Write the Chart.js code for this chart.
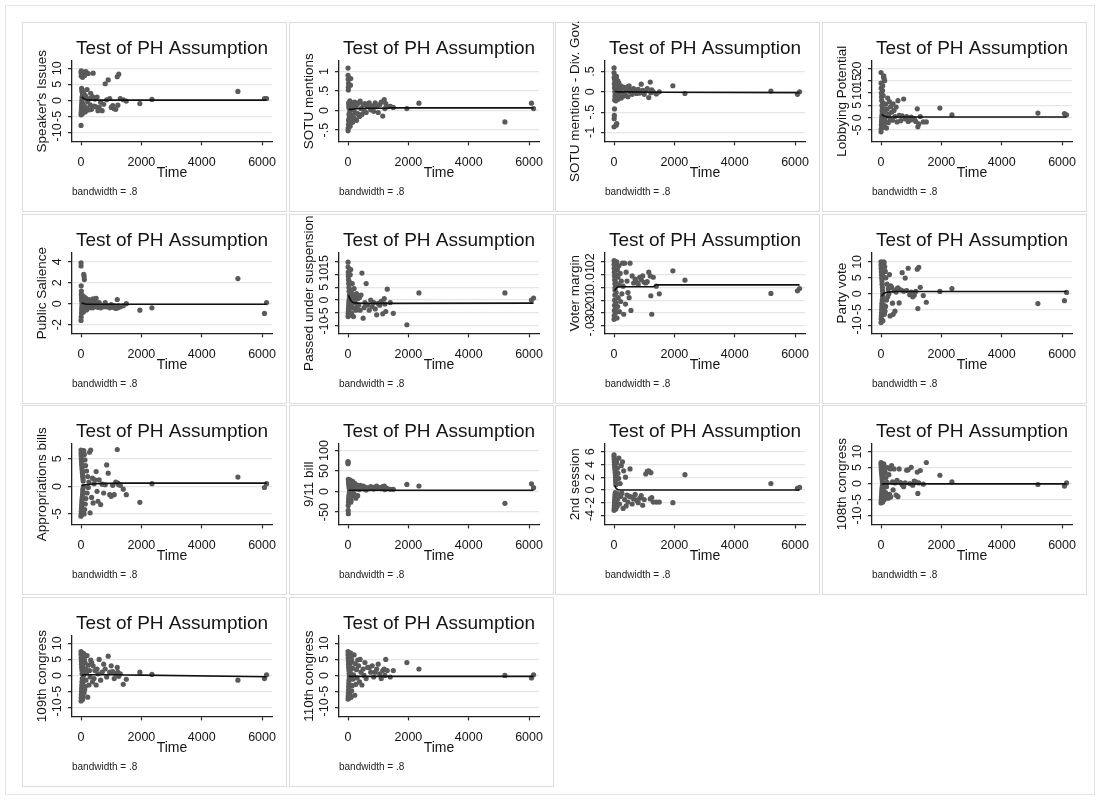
<!DOCTYPE html>
<html><head><meta charset="utf-8">
<script src="https://cdn.jsdelivr.net/npm/chart.js@4.4.1/dist/chart.umd.min.js"></script>
<style>
html,body{margin:0;padding:0;background:#fff;}
body{width:1100px;height:800px;position:relative;overflow:hidden;font-family:"Liberation Sans",Arial,sans-serif;}
#frame{position:absolute;left:5px;top:5px;width:1088px;height:788px;border:1px solid #e4e4e4;}
.card{position:absolute;width:265px;height:190px;box-sizing:border-box;border:1px solid #dcdcdc;background:#fff;}
.card canvas{position:absolute;left:-1px;top:-11px;}
</style></head><body><div id="frame"></div>
<script>
// ---- shared analysis time (x) for every observation ----
const times = [0,0,0,5,5,10,10,15,15,20,20,25,30,30,35,40,45,50,50,55,60,60,70,80,
  90,100,110,120,130,140,150,160,180,200,220,240,260,280,300,320,
  350,380,400,430,460,500,530,560,600,650,700,750,
  800,850,900,950,1000,1050,1100,1150,1200,1220,1250,1300,1400,1500,
  1950,2350,5200,6080,6150];
const smoothTimes = [20,60,120,200,500,1300,1400,6150];
const timeTicks = [0,2000,4000,6000];
const timeTickLabels = ["0","2000","4000","6000"];

// ---- scaled Schoenfeld residuals, one array per covariate ----
const speakersIssues = [-7.8,-4.5,8.8,-3.8,7.6,-3,9.2,-2.2,8.2,-1.4,3.8,-0.6,0.2,2.8,1,3.2,-4.2,1.8,7.2,-2.6,0.6,-1,2.4,-3.4,
  8.6,2,-1.8,7.8,0.8,-3.6,1.4,9,-2.4,3.4,-0.4,8.4,-3,0.6,-1.4,2.2,
  -2.8,1.2,8.5,-1.8,0.4,-2,1,-3.2,-2.2,-0.6,-3.2,-1.2,
  5.2,0.2,6.4,0.6,-2.2,-1.6,-2.6,-2.8,7.4,-1.5,8.2,0.6,0.2,-0.2,
  -1,0.3,2.8,0.6,0.6];
const sotuMentions = [1.09,0.9,-0.52,0.8,-0.45,0.6,0.53,0.7,-0.35,0.2,-0.25,0.1,-0.1,0.15,-0.2,0.05,-0.3,0.22,-0.05,0.12,-0.15,0.25,-0.4,0.65,
  0.82,0.18,-0.22,0.08,-0.12,0.2,-0.3,0.02,0.14,-0.18,0.22,-0.05,0.1,-0.25,0.16,-0.08,
  0.2,-0.15,0.24,0.05,-0.1,0.15,0,0.18,-0.05,0.1,0.2,0.02,
  0.12,-0.02,0.2,0.1,-0.05,0.15,0.22,-0.14,0.28,0.05,0.18,0.1,0.11,0.08,
  0.05,0.19,-0.29,0.19,0.05];
const sotuDivGov = [0.59,-0.86,0.47,-0.66,0.35,-0.58,0.2,-0.42,0.1,-0.2,0.3,0,-0.1,0.4,0.15,-0.15,0.25,0.05,-0.05,0.3,-0.22,0.12,-0.82,0.38,
  -0.78,0.18,-0.12,0.28,0.05,-0.18,0.1,0.22,-0.08,0.02,0.15,-0.15,0.08,-0.05,0.12,-0.1,
  0.1,-0.08,0.05,0.12,-0.12,0.15,0,0.05,-0.06,0.08,0.02,-0.04,
  0.06,-0.03,0.19,0.04,-0.06,0.02,0.08,-0.14,0.24,-0.02,0.05,0,-0.05,0,
  0.15,-0.04,0.02,-0.06,0];
const lobbyingPotential = [18.3,-5.7,14,-4.5,12,-3,10,-2,8.5,-1,7,0,5,1,3,2,4,-4,11,13,6,-2.5,9,16.5,
  17,15.9,-3.5,15,2.5,-1.5,5.5,0.5,-4.2,3.5,8,-2,1.5,6.5,-0.5,4.5,
  2.3,-1,5.6,2.9,0.5,4.3,-1.7,6.9,1,-1.2,0.8,7.6,
  -0.5,0.5,-1.5,-1,0.3,-0.8,-0.4,-1.5,3.6,-3.7,-2.5,0.5,-1.7,-1.7,
  3.9,1.2,1.9,1.7,1.2];
const publicSalience = [3.9,3.6,-1.6,1.7,-1.25,1.2,0.9,-0.9,0.6,-0.6,0.3,-0.3,0,0.5,-0.5,0.8,0.2,-0.2,-0.7,0.4,0.1,-0.4,0.7,-0.8,
  2.8,2.6,2.3,0.6,-0.5,0.3,-0.2,0.5,-0.6,0.2,0,-0.3,0.4,-0.4,0.1,-0.1,
  0.3,-0.4,0.47,0.2,-0.3,0.5,0,-0.35,0.1,-0.4,-0.2,-0.3,
  0.1,-0.3,-0.2,-0.4,-0.1,-0.35,-0.2,-0.45,0.4,-0.4,-0.2,-0.3,-0.2,0,
  -0.62,-0.4,2.4,-0.93,0.1];
const passedSuspension = [14.9,-6.5,13,-5.5,11,-4.5,9.5,-3.5,8,-2.5,6.5,-1.5,5,-0.5,3.5,0.5,2,1.5,12,-6,7,4,10,1,
  12,-2,3,-5,0,6.5,-3,2,-6.5,4.5,-1,1,-4,2.5,-2.5,0.5,
  -2,1,-4,2,10.6,-7.1,-3,-1,6.5,-2,-4,0,
  -2.6,-1,-3.5,-5.8,-1.3,-2,-0.5,-5.4,0.6,-1.5,-4.5,4.3,-1,-5.2,
  -9.7,2.8,2.8,0,0.8];
const voterMargin = [0.021,-0.025,0.018,-0.022,0.015,-0.018,0.012,-0.014,0.009,-0.01,0.006,-0.006,0.003,-0.002,0,0.02,-0.02,0.016,-0.016,0.01,-0.012,0.004,-0.004,0.019,
  0.02,-0.024,0.014,-0.015,0.008,-0.008,0.002,0.017,-0.019,0.011,-0.011,0.005,-0.005,0.019,0.001,-0.021,
  0.019,-0.013,0.012,0.005,-0.004,-0.008,0.019,-0.018,0.009,0.0035,0.0065,0.004,
  0.0026,0.008,0.006,0.009,0.004,0.0035,0.0045,0.012,0.009,-0.0065,-0.021,0.008,0.001,-0.005,
  0.013,0.0057,-0.0047,-0.0026,-0.0008];
const partyVote = [10,-9.1,9,-8,8,-7,7,-6,6,-5,5,-4,4,-3,3,-2,2,-1,1,0,9.5,-8.5,5.5,-3.5,
  10,9.7,-6.5,8.5,-5.5,7,-4,5,-2,3,-1,1.5,0,6,-7,2.5,
  2,-3,-6.5,1,-5.5,0.5,1.5,1.8,-2.9,1.2,6.6,0.8,
  4.9,1,8,-0.3,0.5,-1,-0.5,0.7,7.7,-4.7,8.3,2,-0.6,-2.7,
  0.7,1.6,-3.1,-2.2,0.4];
const appropriationsBills = [6.6,-5.4,6,-5,5.5,-4.5,5,-4,4.5,-3.5,4,-3,3.5,-2.5,3,-2,2.5,-1.5,2,-1,1.5,-0.5,1,0,
  6.5,-5,5.8,-4.2,4.8,-3.2,3.8,-2.2,2.8,-1.2,1.8,-0.2,0.8,6.2,-4.8,6.6,
  -2,1.5,-3,0.5,1.2,2.7,-0.9,-2.7,1.2,-3.3,0.4,-1.2,
  0.3,3.9,2.4,-1.5,-1.8,0.2,-1.5,0.8,6.7,0.6,0.3,0.2,-0.5,-1.5,
  -2.9,0.5,1.7,-0.2,0.5];
const bill911 = [73,68,71,-34,-46,-54,30,-26,25,-20,20,-15,15,-10,10,-5,5,0,22,-18,12,-8,28,-22,
  -26,-22,18,-12,8,-2,25,3,14,-6,20,10,-16,6,16,-10,
  12,5,15,8,10,13.6,6,11,4,9,7,12,
  9.6,6,11,13.6,8,10,7.2,12,13.6,5,9,7.2,5.6,5.6,
  17.5,13.6,-28.7,19,9.6];
const secondSession = [5.2,-3.2,5.5,-2.8,4.8,-2.4,4.4,-2,4,-1.6,3.6,-1.2,3.2,-0.8,2.8,-0.4,2.4,2,1.6,1.2,0.8,-3,-1.8,4.6,
  4.2,-2.6,3.4,-1.4,2.6,-0.6,1.8,5,-2.2,1,-1,3.8,-0.5,4.4,-2.9,3,
  -1.5,2,-2.5,-0.8,-1.9,-1,3.3,-1.1,-2.2,-1.4,-0.7,-1.6,
  -2,-1.3,-0.9,-2.4,-1.5,2.5,2.9,3,-1.4,2.7,-1.2,-1.9,-1.9,-1.9,
  -2,2.4,1,0.25,0.4];
const congress108 = [6.6,-6.1,6,-5.5,5.2,-4.8,4.5,-4,3.8,-3.2,3,-2.4,2.2,-1.6,1.4,-0.8,0.6,0,5.6,-5.8,4,-4.4,2.6,-2,
  6.2,5.6,-5,4.6,-3.8,3.4,-2.8,1.8,-1,0.4,5,-4.6,2.8,-3.4,4.6,-4.2,
  5.6,0.5,-2,4.6,0.2,-3.6,1,-4.1,4.6,0.3,-0.4,-1,
  0.2,4.2,4.3,0,5.1,-0.5,0.8,0.5,3.6,-3.1,0.2,4.1,-0.2,6.6,
  2.6,0.5,-0.3,-0.8,0.2];
const congress109 = [7.4,-8,6.5,-7,5.5,-6,4.5,-5,3.5,-4,2.5,-3,1.5,-2,0.5,-1,7,-7.5,6,-6.5,3,-2.5,1,0,
  6.8,-5.5,5,-4.5,4,-3.5,2,-1.5,0.8,6.2,-6.8,3.2,-3,1.5,-0.5,4.8,
  4,-2,3,-1,1.5,-3,2,0.5,5,-1.5,1,3.5,
  2,-0.5,6,1,3,1.2,-1,0.5,2.5,1,-0.3,0.5,-2.8,-1.2,
  1,0.3,-1.5,-1,0.2];
const congress110 = [7.4,-7.4,6.5,-6.5,5.5,-5.5,4.5,-4.5,3.5,-3.5,2.5,-2.5,1.5,-1.5,0.5,-0.5,7,-7,6,-6,3,-3,1,0,
  7,-6.8,5.2,-4.8,4.2,-3.2,2.2,-1.2,0.2,6.4,-6.2,3.6,-2.8,1.8,-0.8,4.8,
  3,-2,5,1,-3,2,0,4,-1,2.5,2.5,1,
  3,-0.5,1,2,3.5,0.5,-1,1.5,2,0,5,1.5,-0.5,1.5,
  4,2,0,-0.8,0.2];

// ---- lowess smooths (bandwidth .8), evaluated at smoothTimes ----
const speakersIssuesSmooth = [1.1,0.8,0.4,0.15,0.1,0.1,0.1,0.1];
const sotuMentionsSmooth = [0.03,0.03,0.03,0.04,0.06,0.06,0.07,0.07];
const sotuDivGovSmooth = [0.01,0.01,0,0,0,-0.01,-0.01,-0.02];
const lobbyingPotentialSmooth = [1.3,1.0,0.6,0.3,0.3,0.3,0.3,0.3];
const publicSalienceSmooth = [0.06,0.03,-0.02,-0.06,-0.06,-0.06,-0.06,-0.06];
const passedSuspensionSmooth = [1.9,0.5,-0.6,-1.1,-1.3,-1.3,-1.3,-1.2];
const voterMarginSmooth = [-0.0025,-0.001,0.0003,0.0005,0.0005,0.0005,0.002,0.002];
const partyVoteSmooth = [-0.8,-0.2,0.2,0.5,0.7,0.7,0.7,0.7];
const appropriationsBillsSmooth = [0.12,0.2,0.3,0.3,0.5,0.6,0.6,0.6];
const bill911Smooth = [3.2,3.2,3.2,3.2,3.2,3.2,3.2,3.2];
const secondSessionSmooth = [0.7,0.3,0.05,0,0,0,0,0];
const congress108Smooth = [-0.2,-0.1,-0.1,-0.1,-0.1,-0.1,-0.1,-0.1];
const congress109Smooth = [0,0.1,0.2,0.2,0.2,0.2,0.15,-0.4];
const congress110Smooth = [-0.3,-0.3,-0.3,-0.3,-0.3,-0.3,-0.3,-0.3];

// ---- y tick values and their Stata-style labels ----
const ticksTen = [-10,-5,0,5,10];            const ticksTenLabels = ["-10","-5","0","5","10"];
const ticksSotu = [-0.5,0,0.5,1];            const ticksSotuLabels = ["-.5","0",".5","1"];
const ticksDivGov = [-1,-0.5,0,0.5];         const ticksDivGovLabels = ["-1","-.5","0",".5"];
const ticksLobby = [-5,0,5,10,15,20];        const ticksLobbyLabels = ["-5","0","5","10","15","20"];
const ticksSalience = [-2,0,2,4];            const ticksSalienceLabels = ["-2","0","2","4"];
const ticksSuspension = [-10,-5,0,5,10,15];  const ticksSuspensionLabels = ["-10","-5","0","5","10","15"];
const ticksMargin = [-0.03,-0.02,-0.01,0,0.01,0.02]; const ticksMarginLabels = ["-.03","-.02","-.01","0",".01",".02"];
const ticksApprop = [-5,0,5];                const ticksApropLabels = ["-5","0","5"];
const ticks911 = [-50,0,50,100];             const ticks911Labels = ["-50","0","50","100"];
const ticksSession = [-4,-2,0,2,4,6];        const ticksSessionLabels = ["-4","-2","0","2","4","6"];

const panels = [
  {label:"Speaker's Issues", y:speakersIssues, s:speakersIssuesSmooth, min:-12.8, max:12.3, t:ticksTen, tl:ticksTenLabels},
  {label:"SOTU mentions", y:sotuMentions, s:sotuMentionsSmooth, min:-0.79, max:1.27, t:ticksSotu, tl:ticksSotuLabels},
  {label:"SOTU mentions - Div. Gov.", y:sotuDivGov, s:sotuDivGovSmooth, min:-1.22, max:0.76, t:ticksDivGov, tl:ticksDivGovLabels},
  {label:"Lobbying Potential", y:lobbyingPotential, s:lobbyingPotentialSmooth, min:-9.6, max:23, t:ticksLobby, tl:ticksLobbyLabels},
  {label:"Public Salience", y:publicSalience, s:publicSalienceSmooth, min:-2.84, max:4.84, t:ticksSalience, tl:ticksSalienceLabels},
  {label:"Passed under suspension", y:passedSuspension, s:passedSuspensionSmooth, min:-13.1, max:18.5, t:ticksSuspension, tl:ticksSuspensionLabels},
  {label:"Voter margin", y:voterMargin, s:voterMarginSmooth, min:-0.036, max:0.027, t:ticksMargin, tl:ticksMarginLabels},
  {label:"Party vote", y:partyVote, s:partyVoteSmooth, min:-12.5, max:12.8, t:ticksTen, tl:ticksTenLabels},
  {label:"Appropriations bills", y:appropriationsBills, s:appropriationsBillsSmooth, min:-6.9, max:7.7, t:ticksApprop, tl:ticksApropLabels},
  {label:"9/11 bill", y:bill911, s:bill911Smooth, min:-80, max:116, t:ticks911, tl:ticks911Labels},
  {label:"2nd session", y:secondSession, s:secondSessionSmooth, min:-5.4, max:7.2, t:ticksSession, tl:ticksSessionLabels},
  {label:"108th congress", y:congress108, s:congress108Smooth, min:-12.8, max:12.4, t:ticksTen, tl:ticksTenLabels},
  {label:"109th congress", y:congress109, s:congress109Smooth, min:-12.8, max:12.3, t:ticksTen, tl:ticksTenLabels},
  {label:"110th congress", y:congress110, s:congress110Smooth, min:-12.8, max:12.3, t:ticksTen, tl:ticksTenLabels}
];

const FONT = '"Liberation Sans", Arial, sans-serif';
const TXT = '#141414';
const meas = document.createElement('canvas').getContext('2d');
meas.font = '12.5px ' + FONT;

panels.forEach((p, i) => {
  const col = i % 4, row = Math.floor(i / 4);
  const card = document.createElement('div');
  card.className = 'card';
  card.style.left = (22 + col * 266.7) + 'px';
  card.style.top = (22 + row * 191.6) + 'px';
  const cv = document.createElement('canvas');
  cv.width = 265; cv.height = 200;
  cv.style.width = '265px'; cv.style.height = '200px';
  card.appendChild(cv);
  document.body.appendChild(card);
  const widest = Math.max(...p.tl.map(t => meas.measureText(t).width));

  new Chart(cv, {
    type: 'scatter',
    data: {
      datasets: [
        { type: 'line', data: smoothTimes.map((t, k) => ({x: t, y: p.s[k]})),
          borderColor: '#111', borderWidth: 1.6, pointRadius: 0, tension: 0, fill: false },
        { type: 'scatter', data: times.map((t, k) => ({x: t, y: p.y[k]})),
          pointBackgroundColor: '#5a5a5a', pointBorderWidth: 0, pointBorderColor: '#5a5a5a', pointRadius: 2.6 }
      ]
    },
    options: {
      responsive: false, animation: false, devicePixelRatio: 1,
      events: [],
      layout: { padding: { top: 10, left: 0, right: 15, bottom: 0 } },
      plugins: {
        legend: { display: false }, tooltip: { enabled: false },
        title: { display: true, text: 'Test of PH Assumption', fullSize: false, color: TXT,
          font: { family: FONT, size: 19, weight: 'normal', lineHeight: 1.2 }, padding: { top: 15.4, bottom: 0.8 } },
        subtitle: { display: true, text: 'bandwidth = .8', position: 'bottom', align: 'start', fullSize: false, color: '#222',
          font: { family: FONT, size: 10, weight: 'normal', lineHeight: 1.2 }, padding: { top: 5, bottom: 13.6 } }
      },
      scales: {
        x: {
          type: 'linear', min: -300, max: 6330,
          afterBuildTicks: s => { s.ticks = timeTicks.map(v => ({value: v})); },
          afterFit: s => { s.height = 40; },
          ticks: { font: { family: FONT, size: 12.5 }, color: TXT, padding: 9.5, maxRotation: 0, autoSkip: false,
            callback: (v, idx) => timeTickLabels[idx] },
          grid: { drawOnChartArea: false, drawTicks: true, tickLength: 4, tickColor: '#222', tickWidth: 1.2 },
          border: { display: true, color: '#222', width: 1.3 },
          title: { display: true, text: 'Time', color: TXT, font: { family: FONT, size: 14, lineHeight: 1.2 },
            padding: { top: 0, bottom: 0 } }
        },
        y: {
          type: 'linear', min: p.min, max: p.max,
          afterBuildTicks: s => { s.ticks = p.t.map(v => ({value: v})); },
          afterFit: s => { s.width = 50; },
          ticks: { font: { family: FONT, size: 12.5 }, color: TXT, minRotation: 90, maxRotation: 90, autoSkip: false,
            crossAlign: 'center', padding: 10 - widest / 2, callback: (v, idx) => p.tl[idx] },
          grid: { color: '#e6e6e6', lineWidth: 1.3, drawTicks: true, tickLength: 4, tickColor: '#222', tickWidth: 1.2 },
          border: { display: true, color: '#222', width: 1.3 },
          title: { display: true, text: p.label, color: TXT, font: { family: FONT, size: 13.5, lineHeight: 1.2 },
            padding: { top: 11.9, bottom: 0 } }
        }
      }
    }
  });
});
</script>
</body></html>
